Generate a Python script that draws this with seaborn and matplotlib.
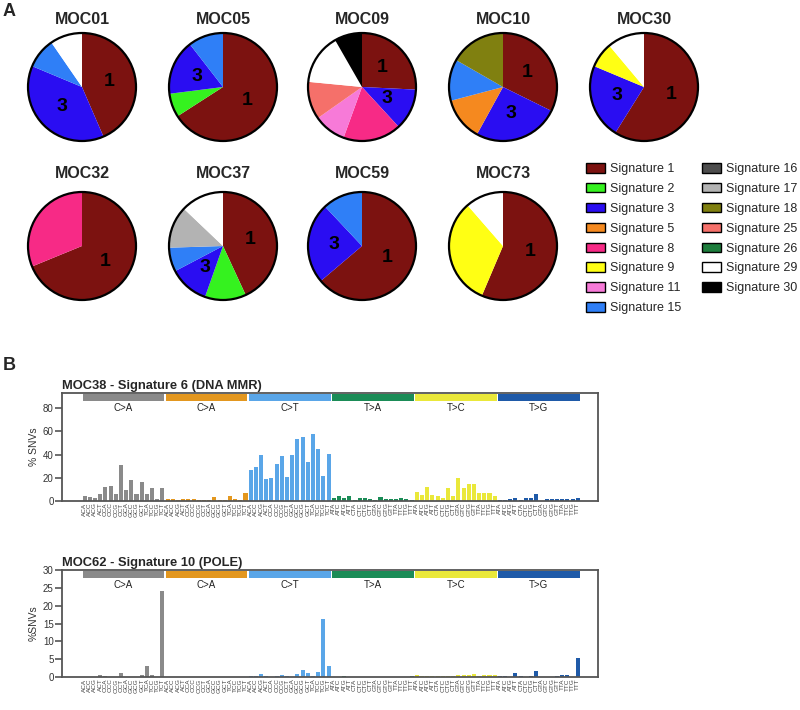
import numpy as np
import pandas as pd
import matplotlib
matplotlib.use('Agg')
import matplotlib.pyplot as plt
import matplotlib.transforms as mtransforms
from matplotlib.patches import Patch, Rectangle, Circle
import seaborn as sns

sns.set_theme(style='white')
plt.rcParams['font.family'] = ['Liberation Sans', 'DejaVu Sans']

# ---- panel A: signature fractions per sample (percent) ----
pie_names = ['MOC01', 'MOC05', 'MOC09', 'MOC10', 'MOC30',
             'MOC32', 'MOC37', 'MOC59', 'MOC73']
pie_sigs = [[1, 3, 15, 29],
            [1, 2, 3, 15],
            [1, 3, 8, 11, 25, 29, 30],
            [1, 3, 5, 15, 18],
            [1, 3, 9, 29],
            [1, 8],
            [1, 2, 3, 15, 17, 29],
            [1, 3, 15],
            [1, 9, 29]]
pie_vals = [[43.5, 37.8, 9.1, 9.6],
            [65.9, 7.1, 16.5, 10.5],
            [25.8, 12.4, 17.4, 9.7, 11.3, 15.2, 8.3],
            [32.3, 25.7, 12.9, 12.4, 16.7],
            [58.9, 22.4, 7.6, 11.1],
            [68.8, 31.2],
            [43.1, 12.3, 11.9, 7.2, 12.6, 12.9],
            [63.8, 24.2, 12.0],
            [56.4, 32.2, 11.4]]

legend_sigs = [1, 2, 3, 5, 8, 9, 11, 15, 16, 17, 18, 25, 26, 29, 30]
legend_colors = ['#7c1210', '#35f21f', '#2a0df2', '#f5891f', '#f72a86',
                 '#ffff14', '#f77ad8', '#2f7ff7', '#4d4d4d', '#b3b3b3',
                 '#808010', '#f5706a', '#1d7d3c', '#ffffff', '#000000']
sig_colors = dict(zip(legend_sigs, legend_colors))

# ---- panel B: 96-channel profiles ----
mut_groups = ['C>A', 'C>G', 'C>T', 'T>A', 'T>C', 'T>G']
strip_labels = ['C>A', 'C>A', 'C>T', 'T>A', 'T>C', 'T>G']
group_colors = ['#8a8a8a', '#e3971f', '#5aa6e8', '#1b8c57', '#eae83a', '#1f5aa8']
c_contexts = [a + 'C' + b for a in 'ACGT' for b in 'ACGT']
t_contexts = [a + 'T' + b for a in 'ACGT' for b in 'ACGT']
contexts = c_contexts * 3 + t_contexts * 3

moc38 = {
    'C>A': [4.6, 3.7, 2.9, 6, 11.7, 12.6, 6, 31, 9.2, 17.8, 6, 16.3, 6, 11.2, 2, 11.5],
    'C>G': [2, 1.5, 0.5, 1.5, 1.5, 1.5, 0.5, 1, 1, 3.5, 0.5, 0.5, 4, 1.5, 0.5, 7],
    'C>T': [26.7, 29, 39.3, 18.6, 19.8, 31.8, 38.4, 20.4, 40, 53.3, 54.8, 33.8, 57.6, 44.4, 21.8, 40.7],
    'T>A': [2.5, 4.5, 2.5, 4, 1, 3, 3, 1.5, 1, 3.5, 2, 2, 2, 3, 2, 0.5],
    'T>C': [7.5, 5.5, 12, 5, 4.5, 3, 11.5, 4, 19.5, 11.5, 14.5, 14.5, 6.5, 7, 7, 4],
    'T>G': [0.8, 1.2, 1.5, 3, 0.5, 2.5, 3, 6, 0.3, 1.5, 2, 1.5, 1.5, 1.5, 2, 3],
}
moc62 = {
    'C>A': [0, 0, 0.1, 0.6, 0.3, 0, 0.1, 1.2, 0.1, 0.1, 0.1, 0.5, 3, 0.6, 0.1, 24],
    'C>G': [0.1, 0.1, 0.1, 0.1, 0.1, 0.1, 0.1, 0.1, 0.1, 0.1, 0.1, 0.1, 0.1, 0.1, 0.1, 0.1],
    'C>T': [0.2, 0.3, 0.9, 0.3, 0.1, 0.2, 0.7, 0.3, 0.1, 0.8, 2.0, 1.1, 0.2, 1.5, 16.4, 3.0],
    'T>A': [0.1, 0.1, 0.3, 0.1, 0.1, 0.1, 0.1, 0.1, 0.1, 0.1, 0.1, 0.1, 0.1, 0.1, 0.1, 0.4],
    'T>C': [0.5, 0.3, 0.4, 0.3, 0.4, 0.2, 0.3, 0.3, 0.5, 0.6, 0.5, 0.8, 0.3, 0.6, 0.6, 0.7],
    'T>G': [0.3, 0.3, 0.1, 1.0, 0.3, 0.1, 0.2, 1.6, 0.1, 0.1, 0.1, 0.4, 0.6, 0.6, 0.1, 5.3],
}

W, H = 800, 710
fig = plt.figure(figsize=(W / 100, H / 100), dpi=100)


def box(left, top, w, h):
    return [left / W, 1 - (top + h) / H, w / W, h / H]


# pies
R = 54
centers = [(82, 87), (223, 87), (362, 87), (503, 87), (644, 87),
           (82, 246), (223, 246), (362, 246), (503, 246)]
title_y = [20, 20, 20, 20, 20, 174, 174, 174, 174]
for name, sigs, vals, (cx, cy), ty in zip(pie_names, pie_sigs, pie_vals, centers, title_y):
    ax = fig.add_axes(box(cx - R - 3, cy - R - 3, 2 * R + 6, 2 * R + 6))
    lbls = [str(s) if s in (1, 3) else '' for s in sigs]
    wedges, texts = ax.pie(vals, colors=[sig_colors[s] for s in sigs], labels=lbls,
                           startangle=90, counterclock=False, labeldistance=0.52,
                           wedgeprops=dict(linewidth=0),
                           textprops=dict(fontsize=14, fontweight='bold', color='black'))
    for t in texts:
        t.set_ha('center')
        t.set_va('center')
    ax.add_patch(Circle((0, 0), 1, fill=False, lw=1.6, ec='black'))
    lim = (R + 3) / R
    ax.set_xlim(-lim, lim)
    ax.set_ylim(-lim, lim)
    ax.axis('off')
    fig.text(cx / W, 1 - ty / H, name, ha='center', va='center',
             fontsize=11.5, fontweight='bold')

handles = [Patch(facecolor=c, edgecolor='black', linewidth=1.0, label=f'Signature {s}')
           for s, c in zip(legend_sigs, legend_colors)]
fig.legend(handles=handles, ncol=2, loc='upper left',
           bbox_to_anchor=(586 / W, 1 - 163 / H), frameon=False, fontsize=9,
           handlelength=1.55, handleheight=0.8, handletextpad=0.4,
           labelspacing=0.62, columnspacing=1.6, borderpad=0, borderaxespad=0)

fig.text(3 / W, 1 - 12 / H, 'A', fontsize=13, fontweight='bold', va='center')
fig.text(3 / W, 1 - 366 / H, 'B', fontsize=13, fontweight='bold', va='center')


def profile(ax, data, title, ylabel, ymax, yticks):
    df = pd.DataFrame({
        'pos': np.arange(96),
        'value': np.concatenate([data[g] for g in mut_groups]),
    })
    bar_colors = list(np.repeat(group_colors, 16))
    sns.barplot(data=df, x='pos', y='value', hue='pos', palette=bar_colors,
                width=0.78, legend=False, saturation=1, linewidth=0, ax=ax)
    ax.set_xlim(-4.35, 98.9)
    ax.set_ylim(0, ymax)
    ax.set_yticks(yticks)
    ax.set_xticks(np.arange(96))
    ax.set_xticklabels(contexts, rotation=90, fontsize=4.6, color='#444444')
    ax.tick_params(axis='x', length=0, pad=1)
    ax.tick_params(axis='y', direction='out', length=5, width=1.2, color='#555555',
                   labelsize=7, pad=1, left=True, labelcolor='#333333')
    ax.set_xlabel('')
    ax.set_ylabel(ylabel, fontsize=7.5, labelpad=3, color='#333333')
    for sp in ax.spines.values():
        sp.set_color('#555555')
        sp.set_linewidth(1.3)
    trans = mtransforms.blended_transform_factory(ax.transData, ax.transAxes)
    sh = 7 / (ax.get_position().height * H)
    for i, (lab, col) in enumerate(zip(strip_labels, group_colors)):
        ax.add_patch(Rectangle((i * 16 - 0.5 + 0.12, 1 - sh - 0.006), 16 - 0.24, sh,
                               transform=trans, facecolor=col, edgecolor='none',
                               clip_on=False, zorder=3))
        ax.text(i * 16 + 7.5, 1 - 2.2 * sh, lab, transform=trans, ha='center',
                va='center', fontsize=7, color='#222222')
    ax.set_title(title, loc='left', fontsize=9.3, fontweight='bold', pad=3, x=0)


ax1 = fig.add_axes(box(62, 393, 536, 108))
profile(ax1, moc38, 'MOC38 - Signature 6 (DNA MMR)', '% SNVs', 93, [0, 20, 40, 60, 80])
ax2 = fig.add_axes(box(62, 570, 536, 107))
profile(ax2, moc62, 'MOC62 - Signature 10 (POLE)', '%SNVs', 30, [0, 5, 10, 15, 20, 25, 30])

fig.savefig('out.png', dpi=100)
